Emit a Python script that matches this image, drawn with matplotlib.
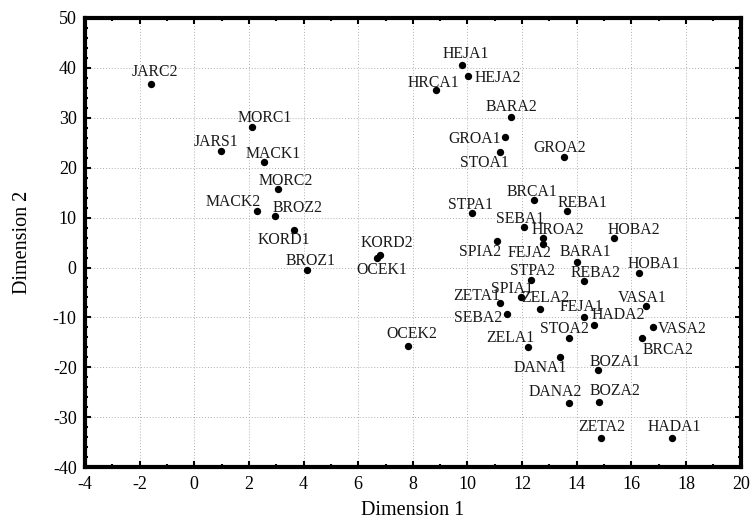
import matplotlib
matplotlib.use("Agg")
import matplotlib.pyplot as plt
from matplotlib.ticker import MultipleLocator

labels = ["JARC2", "MORC1", "JARS1", "MACK1", "MORC2", "MACK2", "BROZ2", "KORD1",
          "BROZ1", "KORD2", "OCEK1", "OCEK2", "HEJA1", "HEJA2", "HRCA1", "BARA2",
          "GROA1", "STOA1", "GROA2", "BRCA1", "REBA1", "STPA1", "SEBA1", "HROA2",
          "HOBA2", "SPIA2", "FEJA2", "BARA1", "HOBA1", "REBA2", "STPA2", "SPIA1",
          "ZETA1", "ZELA2", "SEBA2", "FEJA1", "HADA2", "VASA1", "VASA2", "BRCA2",
          "STOA2", "ZELA1", "DANA1", "BOZA1", "DANA2", "BOZA2", "ZETA2", "HADA1"]
dim1 = [-1.6, 2.13, 0.97, 2.55, 3.07, 2.31, 2.95, 3.65,
        4.12, 6.8, 6.7, 7.83, 9.81, 10.03, 8.83, 11.61,
        11.39, 11.2, 13.52, 12.42, 13.65, 10.15, 12.08, 12.76,
        15.35, 11.08, 12.76, 13.99, 16.26, 14.28, 12.31, 11.97,
        11.2, 12.66, 11.43, 14.28, 14.64, 16.55, 16.78, 16.38,
        13.71, 12.2, 13.4, 14.76, 13.71, 14.8, 14.87, 17.47]
dim2 = [36.7, 28.1, 23.4, 21.1, 15.7, 11.3, 10.3, 7.5,
        -0.5, 2.5, 2.0, -15.7, 40.6, 38.4, 35.6, 30.1,
        26.1, 23.1, 22.1, 13.5, 11.3, 10.9, 8.1, 6.0,
        6.0, 5.4, 4.7, 1.1, -1.1, -2.7, -2.4, -5.9,
        -7.1, -8.4, -9.3, -10.0, -11.6, -7.8, -11.9, -14.1,
        -14.1, -16.0, -17.9, -20.5, -27.2, -26.9, -34.2, -34.2]

# label placement: (dx px, dy px, horizontal alignment, vertical alignment)
placement = {
    "JARC2": (4, 8, "center", "baseline"), "MORC1": (12, 5, "center", "baseline"),
    "JARS1": (-5, 5, "center", "baseline"), "MACK1": (9, 4, "center", "baseline"),
    "MORC2": (8, 4, "center", "baseline"), "MACK2": (3, 5, "right", "baseline"),
    "BROZ2": (-2, 4, "left", "baseline"), "KORD1": (-10, -2, "center", "top"),
    "BROZ1": (4, 5, "center", "baseline"), "KORD2": (-19, 8, "left", "baseline"),
    "OCEK1": (-21, -4, "left", "top"), "OCEK2": (4, 8, "center", "baseline"),
    "HEJA1": (4, 7, "center", "baseline"), "HEJA2": (6, 0, "left", "center_baseline"),
    "HRCA1": (-2, 3, "center", "baseline"), "BARA2": (0, 6, "center", "baseline"),
    "GROA1": (-4, 0, "right", "center_baseline"), "STOA1": (-16, -3, "center", "top"),
    "GROA2": (-4, 5, "center", "baseline"), "BRCA1": (-2, 4, "center", "baseline"),
    "REBA1": (-10, 4, "left", "baseline"), "STPA1": (-1, 4, "center", "baseline"),
    "SEBA1": (-4, 4, "center", "baseline"), "HROA2": (-11, 4, "left", "baseline"),
    "HOBA2": (-6, 4, "left", "baseline"), "SPIA2": (4, -3, "right", "top"),
    "FEJA2": (-13, -1, "center", "top"), "BARA1": (9, 6, "center", "baseline"),
    "HOBA1": (-11, 5, "left", "baseline"), "REBA2": (11, 4, "center", "baseline"),
    "STPA2": (2, 5, "center", "baseline"), "SPIA1": (-9, 4, "center", "baseline"),
    "ZETA1": (0, 3, "right", "baseline"), "ZELA2": (5, 7, "center", "baseline"),
    "SEBA2": (-4, -2, "right", "center_baseline"), "FEJA1": (-3, 6, "center", "baseline"),
    "HADA2": (-3, 6, "left", "baseline"), "VASA1": (-4, 4, "center", "baseline"),
    "VASA2": (5, 0, "left", "center_baseline"), "BRCA2": (1, -4, "left", "top"),
    "STOA2": (-4, 5, "center", "baseline"), "ZELA1": (7, 5, "right", "baseline"),
    "DANA1": (7, -3, "right", "top"), "BOZA1": (-8, 4, "left", "baseline"),
    "DANA2": (13, 7, "right", "baseline"), "BOZA2": (-9, 7, "left", "baseline"),
    "ZETA2": (1, 7, "center", "baseline"), "HADA1": (3, 7, "center", "baseline"),
}

plt.rcParams["font.family"] = ["Liberation Serif", "DejaVu Serif"]
plt.rcParams["axes.unicode_minus"] = False

fig = plt.figure(figsize=(7.52, 5.25), dpi=100)
ax = fig.add_axes([0.113, 0.110, 0.872, 0.856])

ax.scatter(dim1, dim2, s=28, color="black", zorder=3, linewidths=0)
for name, x, y in zip(labels, dim1, dim2):
    dx, dy, ha, va = placement[name]
    ax.annotate(name, (x, y), xytext=(dx, dy), textcoords="offset pixels",
                ha=ha, va=va, fontsize=11.3, color="#1a1a1a", zorder=4)

ax.set_xlim(-4, 20)
ax.set_ylim(-40, 50)
ax.xaxis.set_major_locator(MultipleLocator(2))
ax.xaxis.set_minor_locator(MultipleLocator(1))
ax.yaxis.set_major_locator(MultipleLocator(10))
ax.yaxis.set_minor_locator(MultipleLocator(2))
ax.tick_params(which="both", direction="in", top=True, right=True, width=1.5, labelsize=13)
ax.tick_params(which="major", length=4, pad=6)
ax.tick_params(which="minor", length=2.5)
ax.grid(True, which="major", linestyle=(0, (1, 2)), color="#b0b0b0", linewidth=0.7)
ax.set_axisbelow(True)
for sp in ax.spines.values():
    sp.set_linewidth(3)

ax.set_xlabel("Dimension 1", fontsize=14.5, labelpad=6)
ax.set_ylabel("Dimension 2", fontsize=14.5, labelpad=15)

fig.savefig("out.png", dpi=100)
